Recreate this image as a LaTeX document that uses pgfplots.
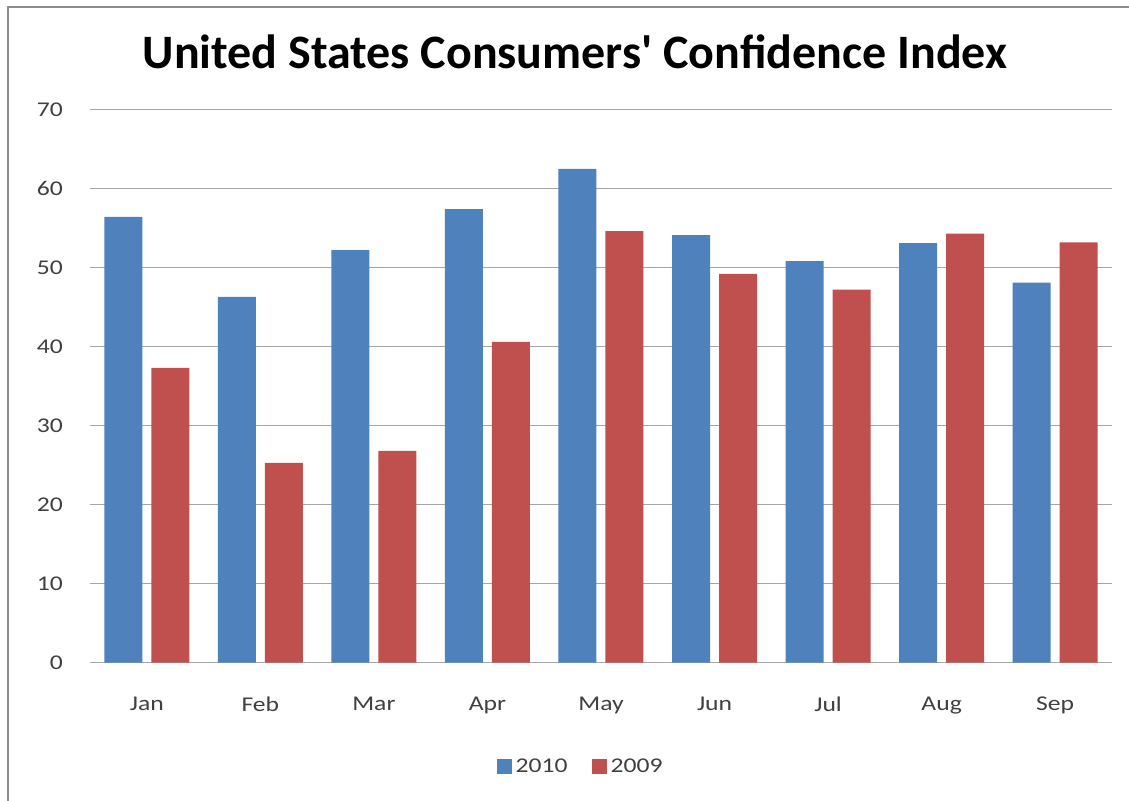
\documentclass[border=0pt]{standalone}
\usepackage{fontspec}
\setmainfont{Carlito}
\newfontfamily\titlefont{Carlito}
\newfontfamily\labelfont[FakeStretch=1.22]{Carlito}
\usepackage{pgfplots}
\pgfplotsset{compat=1.18}
\definecolor{cblue}{HTML}{4F81BD}
\definecolor{cred}{HTML}{C0504D}
\definecolor{cgrid}{HTML}{A6A6A6}
\definecolor{ctext}{HTML}{404040}
\definecolor{cframe}{HTML}{8C8C8C}
\begin{document}
\begin{tikzpicture}
\useasboundingbox (0pt,0pt) rectangle (564.5pt,-400.5pt);
\fill[white] (0pt,0pt) rectangle (564.5pt,-400.5pt);
\draw[cframe, line width=1pt] (4pt,-400.5pt) -- (4pt,-3.5pt) -- (564.5pt,-3.5pt);
\begin{axis}[
  at={(45pt,-331.35pt)}, anchor=south west,
  scale only axis, width=511pt, height=276.6pt,
  xmin=-0.5, xmax=8.5, ymin=0, ymax=70,
  ytick={0,10,...,70},
  xtick={0,...,8},
  xticklabels={Jan,Feb,Mar,Apr,May,Jun,Jul,Aug,Sep},
  ymajorgrids, grid style={cgrid, line width=0.75pt},
  axis x line*=bottom, axis y line*=left,
  x axis line style={cgrid, line width=0.75pt, -},
  y axis line style={draw=none},
  major tick length=0pt,
  tick style={draw=none},
  ticklabel style={font=\labelfont\fontsize{10.5}{12}\selectfont, text=ctext},
  yticklabel style={xshift=-10pt},
  xticklabel style={yshift=-13.5pt},
  /pgf/number format/assume math mode=true,
  title={United States Consumers' Confidence Index},
  title style={at={(0.4746,1.083)}, anchor=center, font=\titlefont\bfseries\fontsize{24}{28}\selectfont, text=black},
  legend style={at={(0.481,-0.188)}, anchor=center, draw=none, fill=none,
    legend columns=2, font=\labelfont\fontsize{10.5}{12}\selectfont, text=ctext,
    /tikz/every even column/.append style={column sep=10pt}},
  ybar, bar width=19pt,
]
\addplot[fill=cblue, draw=none, bar shift=-11.75pt,
  legend image code/.code={\fill[cblue] (0pt,-3.5pt) rectangle (7.5pt,4pt);}]
  coordinates {(0,56.4) (1,46.3) (2,52.2) (3,57.4) (4,62.5) (5,54.1) (6,50.8) (7,53.1) (8,48.1)};
\addplot[fill=cred, draw=none, bar shift=11.75pt,
  legend image code/.code={\fill[cred] (0pt,-3.5pt) rectangle (7.5pt,4pt);}]
  coordinates {(0,37.3) (1,25.3) (2,26.8) (3,40.6) (4,54.6) (5,49.2) (6,47.2) (7,54.3) (8,53.2)};
\legend{2010,2009}
\end{axis}
\end{tikzpicture}
\end{document}
